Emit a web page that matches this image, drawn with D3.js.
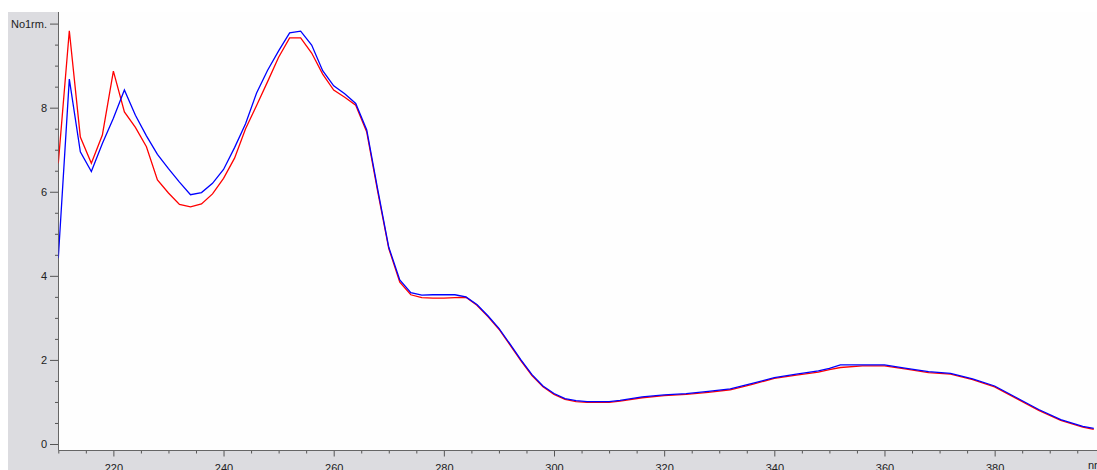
<!DOCTYPE html>
<html>
<head>
<meta charset="utf-8">
<script src="https://cdn.jsdelivr.net/npm/d3@7"></script>
<style>
  body { margin: 0; background: #fff; }
  svg { display: block; }
  .tick text { font-family: "Liberation Sans", Arial, sans-serif; font-size: 11px; fill: #222; }
</style>
</head>
<body>
<div id="chart"></div>
<script>
// wavelengths (nm)
var wavelengths = [210,212,214,216,218,220,222,224,226,228,230,232,234,236,238,240,242,244,246,248,
    250,252,254,256,258,260,262,264,266,268,270,272,274,276,278,280,282,284,286,288,290,292,294,296,298,
    300,302,304,306,308,310,312,316,320,324,328,332,336,340,344,348,350,352,356,360,364,368,372,376,380,
    384,388,392,396,398];

var blueValues = [4.42,8.68,6.95,6.48,7.15,7.75,8.42,7.82,7.33,6.89,6.55,6.23,5.93,5.98,6.2,6.53,7.05,7.62,8.35,8.89,
    9.35,9.78,9.82,9.49,8.88,8.52,8.33,8.1,7.47,6.05,4.68,3.9,3.6,3.54,3.55,3.55,3.55,3.5,3.32,3.05,2.75,2.38,2.0,1.65,1.38,
    1.2,1.08,1.03,1.01,1.01,1.01,1.04,1.12,1.17,1.2,1.25,1.31,1.44,1.58,1.66,1.74,1.8,1.88,1.88,1.88,1.8,1.72,1.68,1.55,1.38,
    1.1,0.82,0.58,0.42,0.37];

var redValues = [6.68,9.83,7.3,6.68,7.35,8.87,7.9,7.53,7.07,6.28,5.97,5.7,5.64,5.71,5.95,6.32,6.8,7.5,8.05,8.62,
    9.2,9.66,9.66,9.3,8.8,8.42,8.25,8.06,7.42,6.0,4.65,3.85,3.55,3.48,3.47,3.47,3.48,3.49,3.3,3.03,2.73,2.36,1.98,1.63,1.36,
    1.18,1.06,1.01,0.99,0.99,0.99,1.02,1.1,1.15,1.18,1.23,1.29,1.42,1.56,1.64,1.71,1.77,1.82,1.86,1.86,1.78,1.7,1.66,1.53,1.36,
    1.08,0.8,0.56,0.4,0.35];

var yMajor = [0, 2, 4, 6, 8, 10];
var xMajor = [220, 240, 260, 280, 300, 320, 340, 360, 380, 400];

var W = 1097, H = 470;
var plot = { left: 58.5, top: 12, right: 1097, bottom: 450.5 };

var svg = d3.select("#chart").append("svg")
    .attr("width", W)
    .attr("height", H);

var x = d3.scaleLinear().domain([210, 400]).range([58.3, 1104.8]);
var y = d3.scaleLinear().domain([0, 10]).range([444, 23.6]);

// grey frame round the plot
svg.append("rect").attr("x", 8).attr("y", 12).attr("width", W - 8).attr("height", H - 12).attr("fill", "#dcdce0");
svg.append("rect").attr("x", plot.left).attr("y", plot.top)
    .attr("width", plot.right - plot.left).attr("height", plot.bottom - plot.top).attr("fill", "#fefefe");

svg.append("clipPath").attr("id", "clip")
    .append("rect").attr("x", plot.left).attr("y", plot.top)
    .attr("width", plot.right - plot.left).attr("height", plot.bottom - plot.top);

// y axis
var yMinor = d3.range(0, 10.01, 0.5).filter(function(d) { return d % 2 !== 0; });
var yAxisG = svg.append("g").attr("transform", "translate(" + (plot.left - 0.5) + ",0)");
yAxisG.call(d3.axisLeft(y).tickValues(yMajor).tickSize(8).tickPadding(3)
    .tickFormat(function(d) { return d === 10 ? "No1rm." : d; }));
yAxisG.append("g").call(d3.axisLeft(y).tickValues(yMinor).tickSize(3).tickFormat(""));
yAxisG.selectAll(".domain").remove();
yAxisG.selectAll(".tick line").attr("stroke", "#555");

// x axis
var xMinor = d3.range(210, 400.1, 5).filter(function(d) { return d % 20 !== 0; });
var xAxisG = svg.append("g").attr("transform", "translate(0," + plot.bottom + ")");
xAxisG.call(d3.axisBottom(x).tickValues(xMajor).tickSize(6).tickPadding(8)
    .tickFormat(function(d) { return d === 400 ? "" : d; }));
xAxisG.append("g").call(d3.axisBottom(x).tickValues(xMinor).tickSize(3).tickFormat(""));
xAxisG.selectAll(".domain").remove();
xAxisG.selectAll(".tick line").attr("stroke", "#555");

svg.append("text")
    .attr("x", 1088).attr("y", 469)
    .style("font-family", "Liberation Sans, Arial, sans-serif").style("font-size", "11px").attr("fill", "#222")
    .text("nm");

svg.append("line").attr("x1", plot.left).attr("x2", plot.left).attr("y1", plot.top).attr("y2", plot.bottom)
    .attr("stroke", "#666");
svg.append("line").attr("x1", plot.left).attr("x2", plot.right).attr("y1", plot.bottom).attr("y2", plot.bottom)
    .attr("stroke", "#666");

var line = d3.line()
    .x(function(d) { return x(d[0]); })
    .y(function(d) { return y(d[1]); });

var series = [
    { values: redValues, color: "#ff0000" },
    { values: blueValues, color: "#0000ff" }
];

svg.append("g").attr("clip-path", "url(#clip)")
    .selectAll("path.spectrum")
    .data(series)
    .enter()
    .append("path")
        .attr("class", "spectrum")
        .attr("fill", "none")
        .attr("stroke", function(d) { return d.color; })
        .attr("stroke-width", 1.3)
        .attr("d", function(d) { return line(d3.zip(wavelengths, d.values)); });
</script>
</body>
</html>
